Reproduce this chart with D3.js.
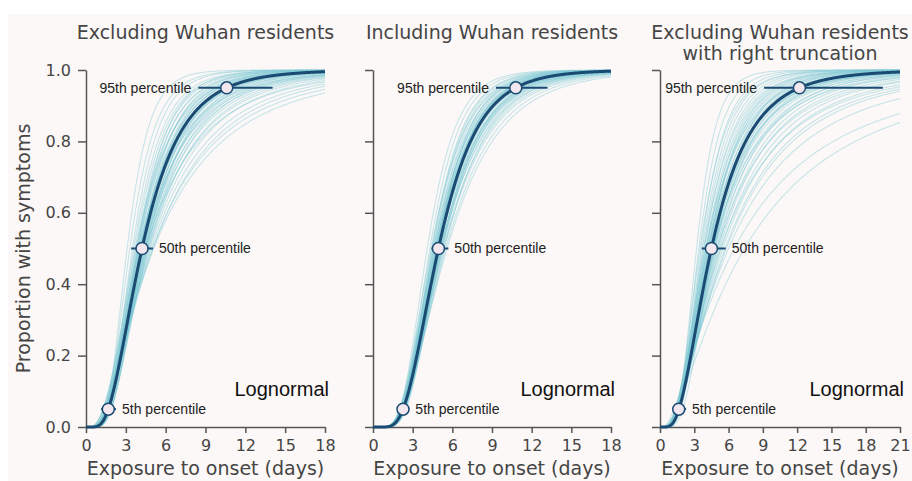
<!DOCTYPE html>
<html>
<head>
<meta charset="utf-8">
<script src="https://cdn.jsdelivr.net/npm/d3@7"></script>
<style>
    html, body { margin: 0; padding: 0; background: #ffffff; }
    svg { display: block; }
</style>
</head>
<body>
<div id="svgContainer"></div>
<script>
const panelTitles = [
    ["Excluding Wuhan residents"],
    ["Including Wuhan residents"],
    ["Excluding Wuhan residents", "with right truncation"]
];
const xMaxDays = [18, 18, 21];
const xTickValues = [
    [0, 3, 6, 9, 12, 15, 18],
    [0, 3, 6, 9, 12, 15, 18],
    [0, 3, 6, 9, 12, 15, 18, 21]
];
const yTickValues = [0, 0.2, 0.4, 0.6, 0.8, 1.0];
const distName = "Lognormal";
const percentileNames = ["5th percentile", "50th percentile", "95th percentile"];
const percentileLevels = [0.05, 0.5, 0.95];

// fitted percentiles (days)
const p5Days = [1.68, 2.27, 1.64];
const p50Days = [4.22, 4.95, 4.5];
const p95Days = [10.6, 10.8, 12.2];

// interval bars (days)
const p5Interval = [[1.13, 2.26], [1.9, 2.75], [1.14, 2.28]];
const p50Interval = [[3.4, 5.05], [4.42, 5.7], [3.65, 5.75]];
const p95Interval = [[8.46, 14.05], [9.3, 13.2], [9.1, 19.5]];

// posterior sample curves, each given by its median and 95th percentile (days)
const sampleMedian1 = [3.1, 3.3, 3.5, 3.6, 3.7, 3.8, 3.85, 3.9, 3.95, 4.0, 4.05, 4.1, 4.1, 4.15, 4.2,
    4.2, 4.25, 4.3, 4.3, 4.35, 4.4, 4.4, 4.45, 4.5, 4.55, 4.6, 4.65, 4.7, 4.8, 4.9, 5.0, 5.1, 3.75,
    3.9, 4.0, 4.15, 4.25, 4.35, 4.5, 4.6, 4.75, 4.0, 4.3, 4.45, 5.05];
const sampleP95_1 = [6.2, 7.0, 7.4, 8.0, 8.3, 8.6, 9.0, 9.6, 8.9, 9.4, 10.2, 9.8, 10.6, 10.1, 10.6,
    11.2, 10.4, 11.6, 10.9, 12.4, 11.1, 13.2, 11.8, 12.0, 13.6, 12.6, 14.5, 13.0, 15.2, 16.5, 18.6, 20.0, 9.9,
    8.4, 11.0, 9.2, 12.8, 10.0, 10.8, 11.4, 14.0, 12.2, 9.7, 15.6, 17.4];

const sampleMedian2 = [4.1, 4.3, 4.45, 4.55, 4.6, 4.65, 4.7, 4.75, 4.8, 4.8, 4.85, 4.9, 4.9, 4.95, 5.0,
    5.0, 5.05, 5.1, 5.15, 5.2, 5.25, 5.3, 5.4, 5.5, 4.4, 4.6, 4.75, 4.85, 4.95, 5.05, 5.15, 5.35, 4.7,
    4.9, 5.0, 5.1, 5.6, 4.5, 4.8, 5.2];
const sampleP95_2 = [8.2, 8.6, 9.0, 9.3, 9.9, 9.5, 10.2, 9.8, 10.6, 10.0, 10.9, 10.4, 11.2, 10.7, 11.0,
    11.6, 10.5, 11.9, 11.3, 12.2, 11.6, 12.8, 12.4, 13.6, 9.6, 10.5, 11.1, 9.7, 11.8, 10.2, 12.5, 13.1, 10.8,
    11.5, 10.3, 12.0, 14.2, 9.1, 10.4, 11.4];

const sampleMedian3 = [3.2, 3.4, 3.6, 3.7, 3.8, 3.9, 4.0, 4.05, 4.1, 4.15, 4.2, 4.25, 4.3, 4.35, 4.4,
    4.45, 4.5, 4.5, 4.55, 4.6, 4.65, 4.7, 4.75, 4.8, 4.9, 5.0, 5.1, 5.2, 5.35, 5.5, 5.7, 6.0, 6.5, 7.4,
    3.85, 4.0, 4.2, 4.4, 4.6, 4.8, 5.0, 5.3, 3.5, 4.3, 4.7, 5.8];
const sampleP95_3 = [6.4, 7.2, 7.8, 8.4, 8.8, 9.2, 9.8, 10.4, 10.0, 10.9, 11.2, 10.6, 11.8, 11.4, 12.2,
    12.6, 11.9, 13.0, 12.4, 13.5, 12.8, 14.2, 13.6, 14.8, 15.5, 14.9, 16.2, 17.0, 18.4, 19.6, 21.5, 26.0, 34.0, 38.0,
    9.6, 11.6, 12.9, 14.0, 15.8, 13.2, 17.8, 20.5, 8.2, 10.2, 11.1, 22.5];

const sampleMedians = [sampleMedian1, sampleMedian2, sampleMedian3];
const sampleP95s = [sampleP95_1, sampleP95_2, sampleP95_3];

const width = 912;
const height = 481;

const panelRanges = [[86, 325], [373, 611], [660, 900]];
const plotTop = 70;
const plotBottom = 427;

const textFont = "'DejaVu Sans', Verdana, sans-serif";
const noteFont = "'Liberation Sans', Arial, sans-serif";
const greyText = "#454545";
const axisGrey = "#555555";
const darkBlue = "#1b4b73";
const sampleTeal = "#7cc8d3";

// Abramowitz & Stegun 7.1.26
function erf(x) {
    const s = x < 0 ? -1 : 1;
    const a = Math.abs(x);
    const t = 1 / (1 + 0.3275911 * a);
    const y = 1 - (((((1.061405429 * t - 1.453152027) * t) + 1.421413741) * t - 0.284496736) * t + 0.254829592) * t * Math.exp(-a * a);
    return s * y;
}

// lognormal CDF from median and 95th percentile
function lognormalCdf(x, median, p95) {
    if (x <= 0) return 0;
    const sigma = Math.log(p95 / median) / 1.6449;
    return 0.5 * (1 + erf(Math.log(x / median) / (sigma * Math.SQRT2)));
}

const svg = d3.select("#svgContainer").append("svg")
    .attr("width", width)
    .attr("height", height);

svg.append("rect")
    .attr("x", 8)
    .attr("y", 14)
    .attr("width", width - 8)
    .attr("height", height - 14)
    .attr("fill", "#fcf8f7");

const y = d3.scaleLinear().domain([0, 1]).range([plotBottom, plotTop]);

svg.append("text")
    .attr("transform", `translate(30, ${(plotTop + plotBottom) / 2}) rotate(-90)`)
    .attr("text-anchor", "middle")
    .attr("font-family", textFont)
    .attr("font-size", 19)
    .attr("fill", greyText)
    .text("Proportion with symptoms");

panelTitles.forEach((title, i) => {
    const x = d3.scaleLinear().domain([0, xMaxDays[i]]).range(panelRanges[i]);
    const g = svg.append("g");
    const midX = (panelRanges[i][0] + panelRanges[i][1]) / 2;

    // title
    g.append("text")
        .attr("text-anchor", "middle")
        .attr("font-family", textFont)
        .attr("font-size", 19)
        .attr("fill", greyText)
        .selectAll("tspan")
        .data(title)
        .join("tspan")
        .attr("x", midX)
        .attr("y", (d, k) => 39 + k * 21)
        .text(d => d);

    // axes
    const xAxis = g.append("g")
        .attr("transform", `translate(0, ${plotBottom})`)
        .call(d3.axisBottom(x).tickValues(xTickValues[i]).tickSize(6).tickSizeOuter(0).tickPadding(7));
    const yAxis = g.append("g")
        .attr("transform", `translate(${panelRanges[i][0]}, 0)`)
        .call(d3.axisLeft(y).tickValues(yTickValues).tickSize(8).tickSizeOuter(0).tickPadding(7)
            .tickFormat(i === 0 ? d3.format(".1f") : ""));

    [xAxis, yAxis].forEach(ax => {
        ax.select(".domain").attr("stroke", axisGrey).attr("stroke-width", 1.5);
        ax.selectAll(".tick line").attr("stroke", axisGrey).attr("stroke-width", 1.5);
        ax.selectAll(".tick text")
            .attr("font-family", textFont)
            .attr("font-size", 16)
            .attr("fill", greyText);
    });

    g.append("text")
        .attr("x", midX)
        .attr("y", 475)
        .attr("text-anchor", "middle")
        .attr("font-family", textFont)
        .attr("font-size", 19)
        .attr("fill", greyText)
        .text("Exposure to onset (days)");

    const days = d3.range(0, xMaxDays[i] + 0.001, 0.05);
    const line = d3.line()
        .x(d => x(d[0]))
        .y(d => y(d[1]));

    // posterior samples
    const samples = sampleMedians[i].map((m, k) => ({median: m, p95: sampleP95s[i][k]}));
    g.append("g")
        .selectAll("path")
        .data(samples)
        .join("path")
        .attr("fill", "none")
        .attr("stroke", sampleTeal)
        .attr("stroke-opacity", 0.42)
        .attr("stroke-width", 1.1)
        .attr("d", s => line(days.map(t => [t, lognormalCdf(t, s.median, s.p95)])));

    // fitted curve
    g.append("path")
        .attr("fill", "none")
        .attr("stroke", darkBlue)
        .attr("stroke-width", 3)
        .attr("d", line(days.map(t => [t, lognormalCdf(t, p50Days[i], p95Days[i])])));

    const marks = [
        {level: percentileLevels[0], day: p5Days[i], ci: p5Interval[i], name: percentileNames[0], side: "right"},
        {level: percentileLevels[1], day: p50Days[i], ci: p50Interval[i], name: percentileNames[1], side: "right"},
        {level: percentileLevels[2], day: p95Days[i], ci: p95Interval[i], name: percentileNames[2], side: "left"}
    ];

    g.append("g")
        .selectAll("line")
        .data(marks)
        .join("line")
        .attr("x1", d => x(d.ci[0]))
        .attr("x2", d => x(d.ci[1]))
        .attr("y1", d => y(d.level))
        .attr("y2", d => y(d.level))
        .attr("stroke", darkBlue)
        .attr("stroke-width", 2);

    g.append("g")
        .selectAll("circle")
        .data(marks)
        .join("circle")
        .attr("cx", d => x(d.day))
        .attr("cy", d => y(d.level))
        .attr("r", 6)
        .attr("fill", "#f3e7ef")
        .attr("stroke", darkBlue)
        .attr("stroke-width", 1.5);

    g.append("g")
        .selectAll("text")
        .data(marks)
        .join("text")
        .attr("x", d => d.side === "left" ? x(d.ci[0]) - 7 : x(d.ci[1]) + 6)
        .attr("y", d => y(d.level))
        .attr("dy", "0.35em")
        .attr("text-anchor", d => d.side === "left" ? "end" : "start")
        .attr("font-family", noteFont)
        .attr("font-size", 14)
        .attr("fill", "#222")
        .text(d => d.name);

    g.append("text")
        .attr("x", panelRanges[i][1] + 4)
        .attr("y", 396)
        .attr("text-anchor", "end")
        .attr("font-family", noteFont)
        .attr("font-size", 20)
        .attr("fill", "#111")
        .text(distName);
});
</script>
</body>
</html>
